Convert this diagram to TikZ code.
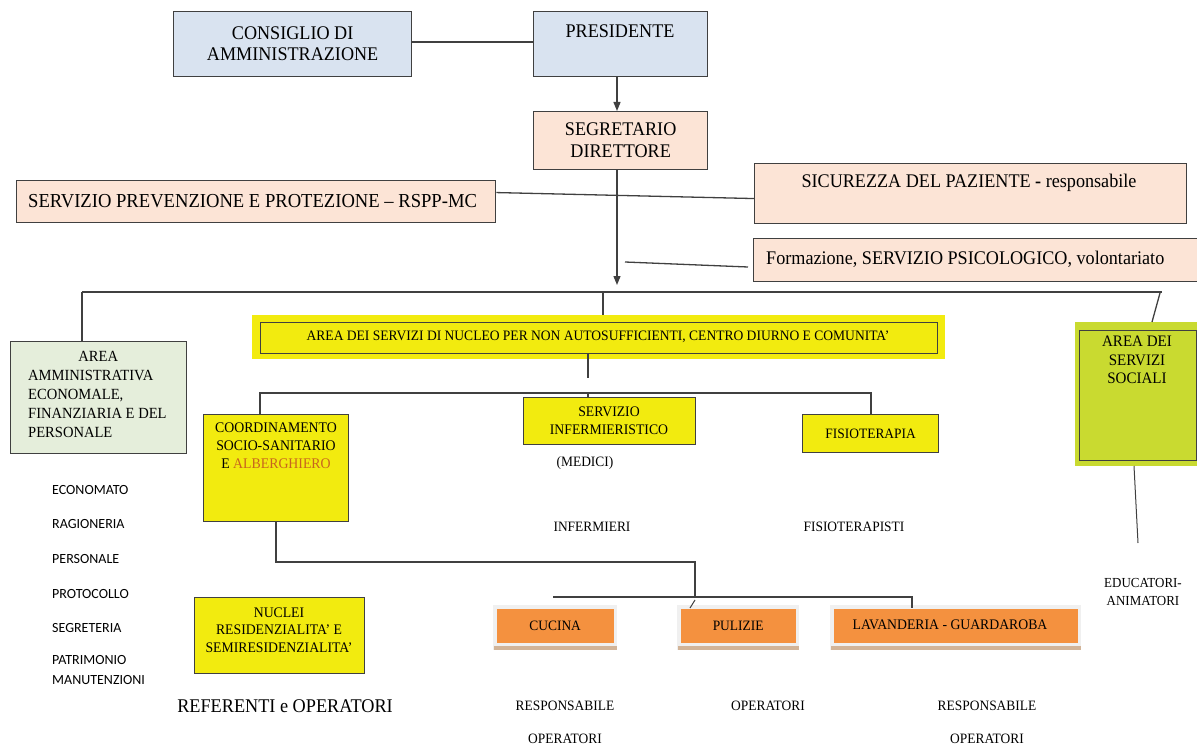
\documentclass[tikz,border=0pt]{standalone}
\usepackage{fontspec}
\setmainfont[FakeStretch=0.94]{Liberation Serif}
\newfontfamily\listfont{Carlito}
\usetikzlibrary{arrows.meta,calc}
\definecolor{bluefill}{HTML}{D9E3F0}
\definecolor{peach}{HTML}{FCE4D6}
\definecolor{palegreen}{HTML}{E5EEDB}
\definecolor{yel}{HTML}{F2EB0F}
\definecolor{socgreen}{HTML}{C9DA30}
\definecolor{orng}{HTML}{F4913F}
\definecolor{bord}{HTML}{404040}
\definecolor{alb}{HTML}{C8641E}
\definecolor{shadowc}{HTML}{D2B498}
\tikzset{
  box/.style={draw=bord, line width=1.3pt, inner sep=0pt, anchor=north west},
  bluebox/.style={box, fill=bluefill},
  peachbox/.style={box, fill=peach},
  yelbox/.style={box, fill=yel},
  orbox/.style={box, draw=none, fill=orng},
  conn/.style={draw=bord, line width=1.3pt},
  big/.style={font=\fontsize{19.3}{21}\selectfont},
  sml/.style={font=\fontsize{14.3}{18}\selectfont},
  lst/.style={font=\listfont\fontsize{14}{16}\selectfont, anchor=west, inner sep=0pt},
  txt/.style={inner sep=0pt, align=center}
}
\begin{document}
\begin{tikzpicture}[x=1pt,y=-1pt]
\useasboundingbox (0,0) rectangle (1197,749);
% top boxes
\node[bluebox, minimum width=238pt, minimum height=65pt] (cons) at (173,11) {};
\node[txt, big] at (cons.center) {CONSIGLIO DI\\AMMINISTRAZIONE};
\node[bluebox, minimum width=174pt, minimum height=65pt] (pres) at (533,11) {};
\node[txt, big] at (620,31) {PRESIDENTE};
\node[peachbox, minimum width=174pt, minimum height=58pt] (seg) at (533,111) {};
\node[txt, font=\fontsize{19.3}{22}\selectfont] at (seg.center) {SEGRETARIO\\DIRETTORE};
\node[peachbox, minimum width=479pt, minimum height=42pt] (serv) at (16,180) {};
\node[txt, font=\fontsize{19.8}{21}\selectfont, anchor=west] at (28,201) {SERVIZIO PREVENZIONE E PROTEZIONE -- RSPP-MC};
\node[peachbox, minimum width=432pt, minimum height=60pt] (sic) at (754,163) {};
\node[txt, big] at (969,183) {SICUREZZA DEL PAZIENTE \textbf{-} responsabile};
\node[peachbox, minimum width=445pt, minimum height=43pt] (form) at (753,238) {};
\node[txt, big, anchor=west] at (766,259) {Formazione, SERVIZIO PSICOLOGICO, volontariato};

% connectors top
\draw[conn] (cons.east |- 0,42) -- (pres.west |- 0,42);
\draw[conn, -{Triangle[length=9pt,width=7pt]}] (pres.south -| 617,0) -- (seg.north -| 617,0);
\coordinate (arrtip) at (617,285);
\draw[conn, -{Triangle[length=9pt,width=7pt]}] (seg.south -| 617,0) -- (arrtip);
\draw[conn] ($(serv.north east)!0.29!(serv.south east)$) -- ($(sic.north west)!0.58!(sic.south west)$);
\coordinate (fa) at (625,262);
\coordinate (fb) at (748,267);
\draw[conn] (fa) -- (fb);

% main bus
\coordinate (busL) at (82,292);
\coordinate (busR) at (1162,292);
\draw[draw=bord, line width=2pt] (busL) -- (busR);

% area amministrativa
\node[box, fill=palegreen, minimum width=176pt, minimum height=112pt] (amm) at (10,341) {};
\draw[conn] (busL) -- (82,341);
\node[inner sep=0pt, anchor=north west, align=left, font=\fontsize{15.5}{19}\selectfont] at (28,351) {\makebox[140pt]{AREA}\\AMMINISTRATIVA\\ECONOMALE,\\FINANZIARIA E DEL\\PERSONALE};

% nucleo
\fill[yel] (252,315) rectangle (945,359);
\node[yelbox, minimum width=677pt, minimum height=31pt] (nuc) at (260,322) {};
\node[txt, font=\fontsize{14.4}{16}\selectfont] at (598,337) {AREA DEI SERVIZI DI NUCLEO PER NON AUTOSUFFICIENTI, CENTRO DIURNO E COMUNITA'};
\draw[conn] (603,292) -- (603,315);

% servizi sociali
\fill[socgreen] (1075,322) rectangle (1197,466);
\node[box, fill=socgreen, minimum width=117pt, minimum height=130pt] (soc) at (1079,330) {};
\node[txt, font=\fontsize{16}{18.5}\selectfont, anchor=north] at (1137,336) {AREA DEI\\SERVIZI\\SOCIALI};
\draw[conn] (1160,293) -- (1152,322);
\coordinate (socb) at (1134,466);
\coordinate (soce) at (1138,543);
\draw[conn, line width=1pt] (socb) -- (soce);
\node[txt, font=\fontsize{13.8}{18}\selectfont] at (1143,592) {EDUCATORI-\\ANIMATORI};

% second level
\node[yelbox, minimum width=145pt, minimum height=107pt] (coord) at (203,414) {};
\node[txt, font=\fontsize{14.7}{18}\selectfont, anchor=north] at (276,423) {COORDINAMENTO\\SOCIO-SANITARIO\\E \textcolor{alb}{ALBERGHIERO}};
\node[yelbox, minimum width=172pt, minimum height=47pt] (inf) at (523,397) {};
\node[txt, font=\fontsize{14.6}{18}\selectfont] at (609,421) {SERVIZIO\\INFERMIERISTICO};
\node[yelbox, minimum width=136pt, minimum height=38pt] (fis) at (802,414) {};
\node[txt, font=\fontsize{14.3}{18}\selectfont] at (fis.center) {FISIOTERAPIA};

\draw[conn] (588,353) -- (588,378);
\draw[conn] (260,414) -- (260,393) -- (871,393) -- (871,414);
\draw[conn] (588,393) -- (588,397);

\node[txt, sml] at (585,463) {(MEDICI)};
\node[txt, sml] at (592,527) {INFERMIERI};
\node[txt, sml] at (854,527) {FISIOTERAPISTI};

% list
\node[lst] at (52,490) {ECONOMATO};
\node[lst] at (52,524) {RAGIONERIA};
\node[lst] at (52,559) {PERSONALE};
\node[lst] at (52,594) {PROTOCOLLO};
\node[lst] at (52,628) {SEGRETERIA};
\node[lst, font=\listfont\fontsize{14}{20}\selectfont, align=left, anchor=north west] at (52,655) {PATRIMONIO\\MANUTENZIONI};

% nuclei
\node[yelbox, minimum width=170pt, minimum height=76pt] (nucl) at (194,597) {};
\node[txt, font=\fontsize{14.6}{17.5}\selectfont] at (279,630) {NUCLEI\\RESIDENZIALITA' E\\SEMIRESIDENZIALITA'};
\node[txt, font=\fontsize{19.4}{22}\selectfont] at (285,706) {REFERENTI e OPERATORI};

% orange boxes
\foreach \x/\w in {496/117, 680/115, 833/244} {
  \fill[black!6] (\x-3,605) rectangle (\x+\w+4,650);
  \fill[shadowc] (\x-2,646) rectangle (\x+\w+4,650);
}
\node[orbox, minimum width=117pt, minimum height=34pt] (cuc) at (496,608) {};
\node[txt, sml] at (cuc.center) {CUCINA};
\node[orbox, minimum width=115pt, minimum height=34pt] (pul) at (680,608) {};
\node[txt, sml] at (pul.center) {PULIZIE};
\node[orbox, minimum width=244pt, minimum height=34pt] (lav) at (833,608) {};
\node[txt, font=\fontsize{14.6}{18}\selectfont] at (950,625) {LAVANDERIA - GUARDAROBA};

\draw[conn] (coord.south -| 276,0) -- (276,562) -- (695,562) -- (695,597);
\draw[conn] (553,597) -- (912,597) -- (912,608);
\draw[conn, line width=1pt] (695,600) -- (690,608);

\node[txt, sml] at (565,706) {RESPONSABILE};
\node[txt, sml] at (565,739) {OPERATORI};
\node[txt, sml] at (768,706) {OPERATORI};
\node[txt, sml] at (987,706) {RESPONSABILE};
\node[txt, sml] at (987,739) {OPERATORI};
\end{tikzpicture}
\end{document}
